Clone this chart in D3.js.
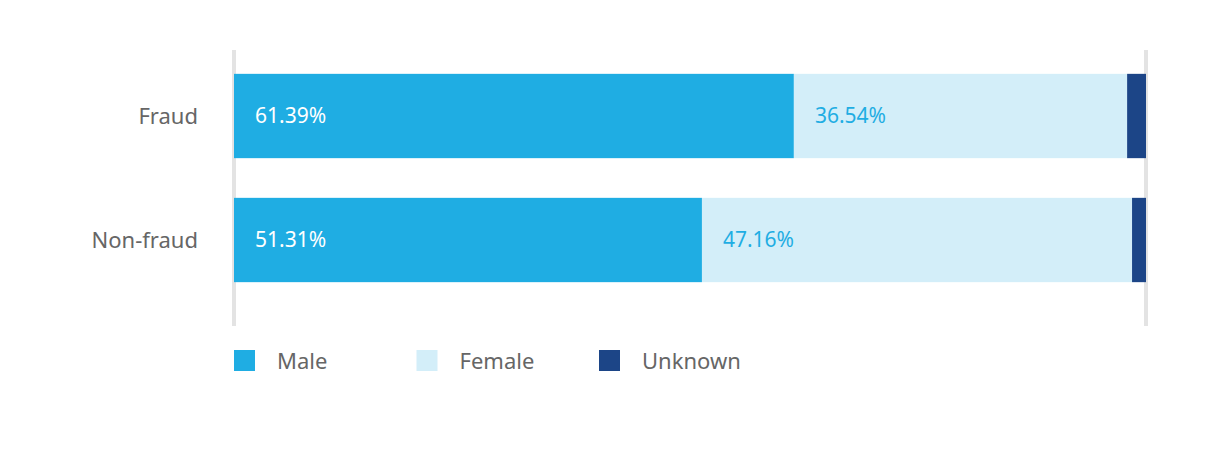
<!DOCTYPE html>
<html>
<head>
<meta charset="utf-8">
<script src="https://cdn.jsdelivr.net/npm/d3@7"></script>
<style>
  body { margin: 0; background: #fff; }
  text { font-family: "Noto Sans", "Open Sans", sans-serif; }
</style>
</head>
<body>
<div id="chart"></div>
<script>
var categories = ['Fraud', 'Non-fraud'];
var seriesNames = ['Male', 'Female', 'Unknown'];
var male = [61.39, 51.31];
var female = [36.54, 47.16];
var unknown = [2.07, 1.53];
var colors = ['#1fade3', '#d3eef9', '#1c4587'];

var svg = d3.select('#chart').append('svg')
  .attr('width', 1208)
  .attr('height', 475);

var x = d3.scaleLinear().domain([0, 100]).range([234, 1146]);
var y = d3.scaleBand().domain(categories).range([54, 302]).paddingInner(0.32).paddingOuter(0.16);

// edge lines
svg.selectAll('.edge')
  .data([0, 100])
 .enter().append('line')
  .attr('x1', function(d) { return x(d); })
  .attr('x2', function(d) { return x(d); })
  .attr('y1', 50).attr('y2', 326)
  .style('stroke', '#e3e3e3')
  .style('stroke-width', 4);

var rows = categories.map(function(c, i) {
  var vals = [male[i], female[i], unknown[i]];
  var start = 0;
  return vals.map(function(v, j) {
    var d = { cat: c, s: j, x0: start, x1: start + v, v: v };
    start += v;
    return d;
  });
});

var g = svg.selectAll('.row')
  .data(rows)
 .enter().append('g')
  .attr('class', 'row');

g.selectAll('rect')
  .data(function(d) { return d; })
 .enter().append('rect')
  .attr('x', function(d) { return x(d.x0); })
  .attr('width', function(d) { return x(d.x1) - x(d.x0); })
  .attr('y', function(d) { return y(d.cat); })
  .attr('height', y.bandwidth())
  .style('fill', function(d) { return colors[d.s]; });

g.selectAll('.val')
  .data(function(d) { return d.filter(function(e) { return e.s < 2; }); })
 .enter().append('text')
  .attr('x', function(d) { return x(d.x0) + 21; })
  .attr('y', function(d) { return y(d.cat) + y.bandwidth() / 2; })
  .attr('dy', '0.35em')
  .style('font-size', '21px')
  .style('fill', function(d) { return d.s === 0 ? '#fff' : '#1fade3'; })
  .text(function(d) { return d.v.toFixed(2) + '%'; });

svg.selectAll('.cat')
  .data(categories)
 .enter().append('text')
  .attr('x', 198)
  .attr('y', function(d) { return y(d) + y.bandwidth() / 2; })
  .attr('dy', '0.35em')
  .attr('text-anchor', 'end')
  .style('font-size', '22px')
  .style('fill', '#666')
  .text(function(d) { return d; });

var leg = svg.selectAll('.leg')
  .data(seriesNames)
 .enter().append('g')
  .attr('transform', function(d, i) { return 'translate(' + (234 + i * 182.5) + ',350)'; });
leg.append('rect').attr('width', 21).attr('height', 21)
  .style('fill', function(d, i) { return colors[i]; });
leg.append('text').attr('x', 43).attr('y', 11).attr('dy', '0.35em')
  .style('font-size', '22px').style('fill', '#666')
  .text(function(d) { return d; });
</script>
</body>
</html>
